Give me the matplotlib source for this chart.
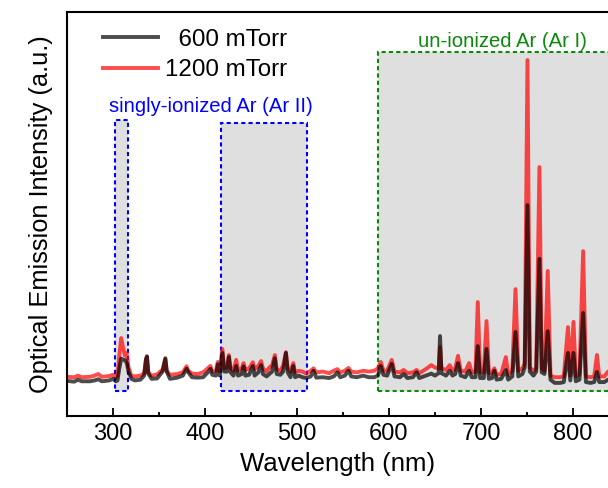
import matplotlib.pyplot as plt
from matplotlib.patches import Rectangle

plt.rcParams['font.family'] = ['Liberation Sans', 'DejaVu Sans']

# wavelength (nm) and intensity (a.u., 0-1000 full scale)
wl = [250, 258, 262, 266, 275, 280, 284, 288, 296, 300, 303, 305, 307, 309, 311, 313, 315, 317,
      320, 324, 330, 334, 336, 337, 338.5, 342, 348, 354, 357, 358.5, 362, 370, 376, 380, 382,
      386, 392, 398, 404, 406, 408, 412, 414, 416, 419, 421, 424, 426, 428, 431, 434, 436, 440,
      442, 444, 448, 452, 454, 458, 461, 463, 467, 470, 473, 476, 478, 482, 485, 488, 490, 493,
      496, 498, 502, 506, 510, 515, 518, 521, 528, 535, 540, 544, 547, 552, 556, 559, 565, 572,
      578, 584, 588, 591, 594, 598, 603, 606, 612, 616, 620, 626, 630, 633, 640, 646, 650, 654,
      655.5, 657, 662, 666, 669, 672, 675, 678, 683, 687, 690, 694, 696.5, 699, 703, 706, 708.5,
      712, 714.5, 717, 722, 727, 729.5, 734, 737.5, 740.5, 745, 747.5, 750.5, 753, 757, 760,
      763.5, 766, 769, 772.5, 775.5, 780, 786, 790, 794.5, 797, 800.5, 803, 807, 811, 814, 819,
      823, 826, 828.5, 834, 838, 842]
i_600 = [87, 85, 90, 86, 86, 88, 91, 86, 88, 92, 86, 88, 118, 142, 140, 138, 132, 110,
         92, 88, 90, 100, 140, 148, 105, 92, 93, 110, 143, 110, 92, 95, 100, 117, 108,
         96, 95, 96, 110, 117, 102, 100, 128, 100, 156, 110, 110, 146, 108, 100, 124, 100, 104,
         123, 100, 102, 124, 100, 108, 126, 104, 98, 104, 110, 143, 104, 102, 110, 156, 108, 96,
         124, 96, 100, 96, 94, 98, 112, 95, 96, 94, 98, 108, 96, 100, 112, 98, 96, 100,
         96, 96, 100, 124, 102, 100, 129, 98, 96, 104, 94, 96, 108, 94, 100, 105, 100, 106,
         198, 106, 100, 112, 100, 104, 131, 100, 96, 112, 96, 96, 173, 94, 94, 166, 92,
         94, 112, 90, 92, 114, 90, 98, 208, 98, 104, 120, 522, 110, 100, 110,
         389, 108, 104, 210, 90, 82, 82, 84, 156, 88, 156, 86, 90, 255, 84, 82,
         84, 109, 84, 84, 90, 86]
i_1200 = [97, 96, 100, 96, 97, 100, 104, 97, 99, 102, 96, 100, 150, 193, 170, 150, 156, 120,
          100, 98, 100, 106, 142, 146, 108, 100, 103, 115, 141, 112, 102, 104, 108, 123, 112,
          105, 104, 108, 120, 124, 110, 112, 134, 110, 166, 118, 120, 151, 118, 112, 139, 112, 118,
          131, 114, 118, 133, 116, 124, 136, 118, 110, 120, 126, 151, 116, 112, 125, 158, 118, 110,
          131, 108, 112, 110, 105, 112, 118, 108, 110, 106, 112, 116, 108, 112, 119, 110, 108, 112,
          110, 112, 118, 134, 112, 112, 139, 110, 108, 114, 106, 108, 114, 106, 116, 126, 120, 118,
          171, 118, 114, 126, 112, 118, 149, 112, 110, 131, 108, 110, 282, 108, 108, 235, 106,
          108, 118, 102, 104, 146, 102, 112, 314, 112, 118, 130, 881, 120, 112, 118,
          616, 118, 112, 359, 100, 96, 96, 98, 220, 100, 233, 98, 104, 408, 98, 96,
          98, 151, 98, 98, 110, 100]

labels = ['  600 mTorr', '1200 mTorr']
xticks = [300, 400, 500, 600, 700, 800]

# shaded regions: (x0, x1, y0, y1)
ar2_regions = [(302, 316, 62, 733), (418, 511, 62, 725)]
ar1_region = (588, 860, 62, 901)

fig = plt.figure(figsize=(6.08, 4.88), dpi=100)
ax = fig.add_axes([0.110, 0.1475, 0.890, 0.828])

for x0, x1, y0, y1 in ar2_regions:
    ax.add_patch(Rectangle((x0, y0), x1 - x0, y1 - y0, facecolor='#dfdfdf',
                           edgecolor='#0000ff', linestyle=(0, (2, 1.5)), linewidth=1.5, zorder=1))
x0, x1, y0, y1 = ar1_region
ax.add_patch(Rectangle((x0, y0), x1 - x0, y1 - y0, facecolor='#dfdfdf',
                       edgecolor='#0a8a0a', linestyle=(0, (2, 1.5)), linewidth=1.5, zorder=1))

ax.plot(wl, i_1200, color='#ff0000', alpha=0.7, lw=2.8, zorder=2, label=labels[1])
ax.plot(wl, i_600, color='#000000', alpha=0.7, lw=2.8, zorder=3, label=labels[0])

ax.text(295.5, 765, 'singly-ionized Ar (Ar II)', color='#0000ff', fontsize=14.6,
        ha='left', va='center')
ax.text(631, 928, 'un-ionized Ar (Ar I)', color='#0a8a0a', fontsize=14.6,
        ha='left', va='center')

h, l = ax.get_legend_handles_labels()
ax.legend(h[::-1], l[::-1], loc='upper left', bbox_to_anchor=(0.066, 0.958), frameon=False,
          fontsize=17.4, handlelength=2.28, handletextpad=0.29, labelspacing=0.35,
          borderpad=0, borderaxespad=0)

ax.set_xlim(250, 838)
ax.set_ylim(0, 1000)
ax.set_xticks(xticks)
ax.set_xticks([350, 450, 550, 650, 750], minor=True)
ax.set_yticks([])
ax.tick_params(axis='x', which='major', direction='in', length=6, width=1.3, labelsize=17, pad=5)
ax.tick_params(axis='x', which='minor', direction='in', length=3, width=1.3)
ax.spines['right'].set_visible(False)
for s in ['left', 'top', 'bottom']:
    ax.spines[s].set_linewidth(1.5)

ax.set_xlabel('Wavelength (nm)', fontsize=18.5, labelpad=5)
ax.set_ylabel('Optical Emission Intensity (a.u.)', fontsize=18.3, labelpad=10)

fig.savefig('out.png', dpi=100)
